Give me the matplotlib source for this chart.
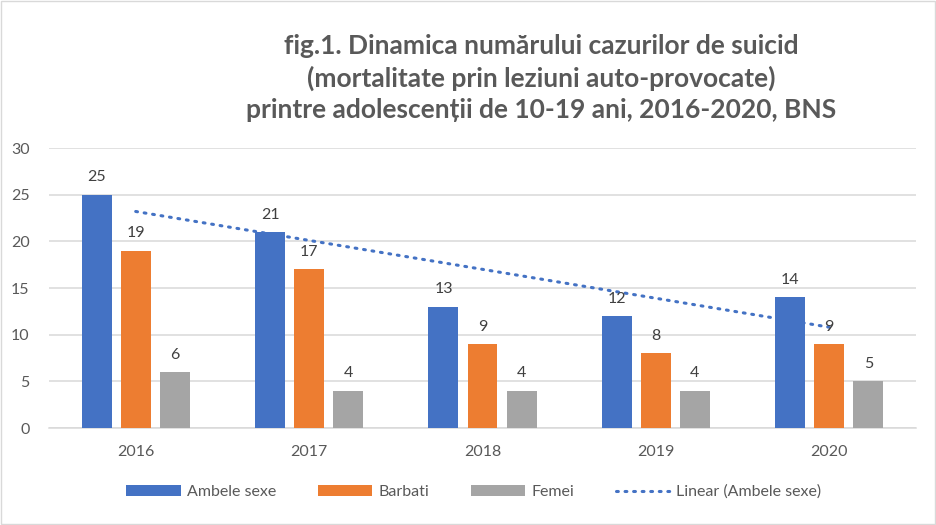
import numpy as np
import matplotlib.pyplot as plt
from matplotlib.patches import Rectangle

years = ["2016", "2017", "2018", "2019", "2020"]
ambele = [25, 21, 13, 12, 14]
barbati = [19, 17, 9, 8, 9]
femei = [6, 4, 4, 4, 5]

series_names = ["Ambele sexe", "Barbati", "Femei"]
colors = ["#4472C4", "#ED7D31", "#A5A5A5"]

TITLE = ("fig.1. Dinamica numărului cazurilor de suicid\n"
         "(mortalitate prin leziuni auto-provocate)\n"
         "printre adolescenții de 10-19 ani, 2016-2020, BNS")

plt.rcParams["font.family"] = ["Lato", "DejaVu Sans"]

fig = plt.figure(figsize=(9.37, 5.25), dpi=100)
ax = fig.add_axes([49 / 937, 1 - 428 / 525, (916 - 49) / 937, 280 / 525])

x = np.arange(len(years))
width = 0.173
step = 0.225

handles = []
for i, (vals, name, col) in enumerate(zip([ambele, barbati, femei], series_names, colors)):
    pos = x + (i - 1) * step
    bars = ax.bar(pos, vals, width=width, color=col, label=name, zorder=3)
    handles.append(bars)
    for b, v in zip(bars, vals):
        ax.text(b.get_x() + b.get_width() / 2, v + 1.1, str(v), ha="center", va="bottom",
                fontsize=11.5, color="#404040", zorder=4)

# linear trend of Ambele sexe
coef = np.polyfit(x, ambele, 1)
trend = np.polyval(coef, x)
line, = ax.plot(x, trend, linestyle=(0, (0.6, 2.2)), color="#4472C4", linewidth=2.2,
                dash_capstyle="round", label="Linear (Ambele sexe)", zorder=2)
handles.append(line)

ax.set_xlim(-0.5, len(years) - 0.5)
ax.set_ylim(0, 30)
ax.set_yticks(range(0, 31, 5))
ax.set_xticks(x)
ax.set_xticklabels(years)
ax.yaxis.grid(True, color="#D9D9D9", linewidth=1.1, zorder=0)
ax.set_axisbelow(True)
for s in ["top", "right", "left"]:
    ax.spines[s].set_visible(False)
ax.spines["bottom"].set_color("#D9D9D9")
ax.spines["bottom"].set_linewidth(1.1)
ax.tick_params(axis="both", length=0, labelsize=11.5, labelcolor="#595959")
ax.tick_params(axis="y", pad=14)
ax.tick_params(axis="x", pad=12)

fig.text(541 / 937, 1 - 78 / 525, TITLE, ha="center", va="center", fontsize=19,
         fontweight="bold", color="#595959", linespacing=1.38)

leg = ax.legend(handles, [h.get_label() for h in handles], loc="center",
                bbox_to_anchor=(474 / 937, 1 - 492 / 525),
                bbox_transform=fig.transFigure, ncol=4, frameon=False,
                fontsize=11.5, handlelength=3.4, handleheight=0.7,
                columnspacing=2.6, handletextpad=0.4)
for t in leg.get_texts():
    t.set_color("#595959")

fig.patches.append(Rectangle((0.001, 0.001), 0.997, 0.997, transform=fig.transFigure,
                             fill=False, edgecolor="#D9D9D9", linewidth=1))

fig.savefig("out.png", dpi=100)
